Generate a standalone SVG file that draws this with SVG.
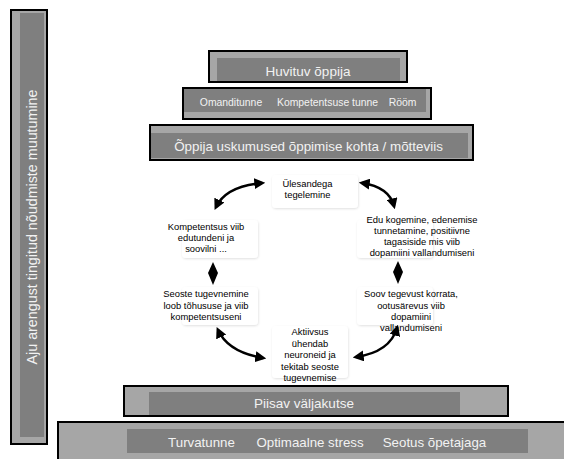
<svg xmlns="http://www.w3.org/2000/svg" width="564" height="459" viewBox="0 0 564 459">
<style>
.outer{fill:#a6a6a6;stroke:#000;stroke-width:2}
.inner{fill:#7f7f7f}
.bt{font-family:"Liberation Sans",Arial,sans-serif;fill:#f2f2f2;text-anchor:middle;dominant-baseline:central}
.ct{font-family:"Liberation Sans",Arial,sans-serif;fill:#000;font-size:9.4px;text-anchor:middle;dominant-baseline:central}
.box{fill:#fff;filter:url(#sh)}
.con{fill:none;stroke:#000;stroke-width:2.5;marker-start:url(#ah);marker-end:url(#ah)}
</style>
<defs>
<filter id="sh" x="-20%" y="-20%" width="140%" height="140%">
<feDropShadow dx="0.5" dy="1" stdDeviation="1" flood-color="#000" flood-opacity="0.12"/>
</filter>
<marker id="ah" viewBox="0 0 10 10" refX="7" refY="5" markerWidth="4.4" markerHeight="4.4" orient="auto-start-reverse">
<path d="M0,0 L10,5 L0,10 z" fill="#000"/>
</marker>
</defs>
<rect width="564" height="459" fill="#fff"/>

<g id="side">
<rect class="outer" x="11" y="10" width="36" height="434"/>
<rect class="inner" x="20" y="13" width="24" height="424"/>
<text class="bt" font-size="14.3" transform="translate(32,227) rotate(-90)">Aju arengust tingitud nõudmiste muutumine</text>
</g>

<g id="huvituv">
<rect class="outer" x="209" y="51" width="198" height="31"/>
<rect class="inner" x="217" y="58" width="183" height="23"/>
<text class="bt" font-size="13.5" x="308" y="71">Huvituv õppija</text>
</g>

<g id="omandi">
<rect class="outer" x="183" y="88" width="248" height="31"/>
<rect class="inner" x="184" y="89" width="242" height="23"/>
<text class="bt" font-size="10.4" x="231" y="102">Omanditunne</text>
<text class="bt" font-size="10.4" x="327.5" y="102">Kompetentsuse tunne</text>
<text class="bt" font-size="10.4" x="402.5" y="102">Rööm</text>
</g>

<g id="uskumused">
<rect class="outer" x="150" y="125" width="323" height="35"/>
<rect class="inner" x="151" y="133" width="317" height="25"/>
<text class="bt" font-size="13.4" x="308.5" y="146">Õppija uskumused õppimise kohta / mõtteviis</text>
</g>

<g id="piisav">
<rect class="outer" x="124" y="386" width="384" height="30"/>
<rect class="inner" x="149" y="392" width="311" height="23"/>
<text class="bt" font-size="13.5" x="304" y="403">Piisav väljakutse</text>
</g>

<g id="alus">
<rect class="outer" x="58" y="422" width="512" height="45"/>
<rect class="inner" x="127" y="429" width="401" height="24"/>
<text class="bt" font-size="13.3" x="201.5" y="442">Turvatunne</text>
<text class="bt" font-size="13.3" x="310" y="442">Optimaalne stress</text>
<text class="bt" font-size="13.3" x="434.5" y="442">Seotus õpetajaga</text>
</g>

<g id="n1">
<rect class="box" x="272" y="175" width="86" height="33" rx="4"/>
<text class="ct" x="307.5" y="183">Ülesandega</text>
<text class="ct" x="307.5" y="194">tegelemine</text>
</g>
<g id="n2">
<rect class="box" x="357" y="220" width="76" height="38" rx="4"/>
<text class="ct" x="422" y="219">Edu kogemine, edenemise</text>
<text class="ct" x="422" y="230">tunnetamine, positiivne</text>
<text class="ct" x="422" y="241">tagasiside mis viib</text>
<text class="ct" x="422" y="252">dopamiini vallandumiseni</text>
</g>
<g id="n3">
<rect class="box" x="357" y="287" width="76" height="38" rx="4"/>
<text class="ct" x="411" y="293">Soov tegevust korrata,</text>
<text class="ct" x="411" y="305">ootusärevus viib</text>
<text class="ct" x="411" y="316">dopamiini</text>
<text class="ct" x="411" y="327">vallandumiseni</text>
</g>
<g id="n4">
<rect class="box" x="272" y="326" width="76" height="52" rx="4"/>
<text class="ct" x="310" y="331">Aktiivsus</text>
<text class="ct" x="310" y="343">ühendab</text>
<text class="ct" x="310" y="354">neuroneid ja</text>
<text class="ct" x="310" y="366">tekitab seoste</text>
<text class="ct" x="310" y="377">tugevnemise</text>
</g>
<g id="n5">
<rect class="box" x="182" y="287" width="76" height="38" rx="4"/>
<text class="ct" x="206" y="293">Seoste tugevnemine</text>
<text class="ct" x="206" y="305">loob tõhususe ja viib</text>
<text class="ct" x="206" y="316">kompetentsuseni</text>
</g>
<g id="n6">
<rect class="box" x="182" y="220" width="76" height="38" rx="4"/>
<text class="ct" x="206" y="226">Kompetentsus viib</text>
<text class="ct" x="206" y="237">edutundeni ja</text>
<text class="ct" x="206" y="248">soovilni ...</text>
</g>

<g id="connectors">
<path class="con" d="M216,207 Q226,186 262,183"/>
<path class="con" d="M362,183 Q389,187 394,206"/>
<path class="con" d="M397,328 Q390,352 356,357"/>
<path class="con" d="M263,358 Q228,352 218,330"/>
<polygon points="213,262 218,273 213,285 208,273" fill="#000"/>
<polygon points="398,261 403,272 398,284 393,272" fill="#000"/>
</g>
</svg>
